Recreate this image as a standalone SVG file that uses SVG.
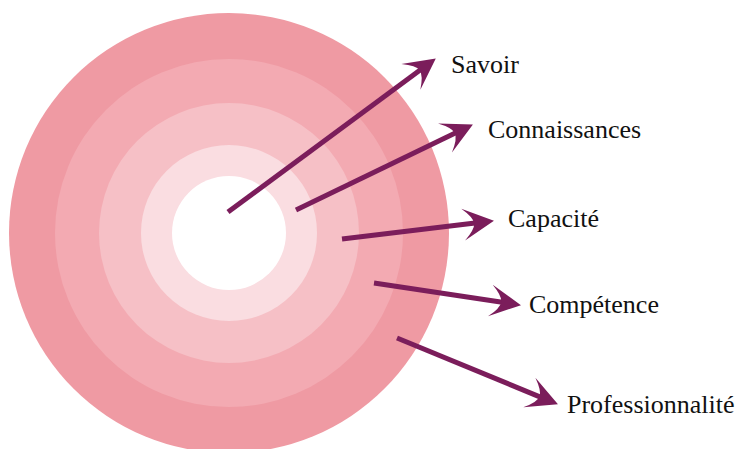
<svg xmlns="http://www.w3.org/2000/svg" width="740" height="449" viewBox="0 0 740 449">
  <style>
    .label { font-family: "Liberation Serif", "Times New Roman", serif; font-size: 26px; fill: #111; }
    .link { stroke: #7b1d5b; stroke-width: 5; fill: none; marker-end: url(#head); }
  </style>
  <defs>
    <!-- barbed arrowhead; tip sits 18px beyond the line end -->
    <marker id="head" markerUnits="userSpaceOnUse" viewBox="-34 -18 36 36" markerWidth="36" markerHeight="36" refX="-18" refY="0" orient="auto" overflow="visible">
      <path d="M1,0 L-30,-16 Q-19,-6 -19,0 Q-19,6 -30,16 Z" fill="#7b1d5b"/>
    </marker>
  </defs>

  <rect width="740" height="449" fill="#ffffff"/>

  <!-- concentric rings, outermost first -->
  <g id="rings">
    <circle cx="229" cy="233" r="220" fill="#ef9aa3"/>
    <circle cx="229" cy="233" r="174" fill="#f3aab2"/>
    <circle cx="229" cy="233" r="130" fill="#f6c0c6"/>
    <circle cx="229" cy="233" r="88" fill="#fadde1"/>
    <circle cx="229" cy="233" r="57" fill="#ffffff"/>
  </g>

  <g id="connectors">
    <line class="link" x1="228" y1="212" x2="420.5" y2="69.7"/>
    <line class="link" x1="296" y1="210" x2="455.8" y2="132.8"/>
    <line class="link" x1="342" y1="239" x2="475.1" y2="223.1"/>
    <line class="link" x1="374" y1="283" x2="502.2" y2="302.3"/>
    <line class="link" x1="397" y1="338" x2="540.4" y2="397.1"/>
  </g>

  <g id="savoir"><text class="label" x="451" y="73">Savoir</text></g>
  <g id="connaissances"><text class="label" x="488" y="138">Connaissances</text></g>
  <g id="capacite"><text class="label" x="508" y="227">Capacité</text></g>
  <g id="competence"><text class="label" x="529" y="313">Compétence</text></g>
  <g id="professionnalite"><text class="label" x="567" y="413">Professionnalité</text></g>
</svg>
